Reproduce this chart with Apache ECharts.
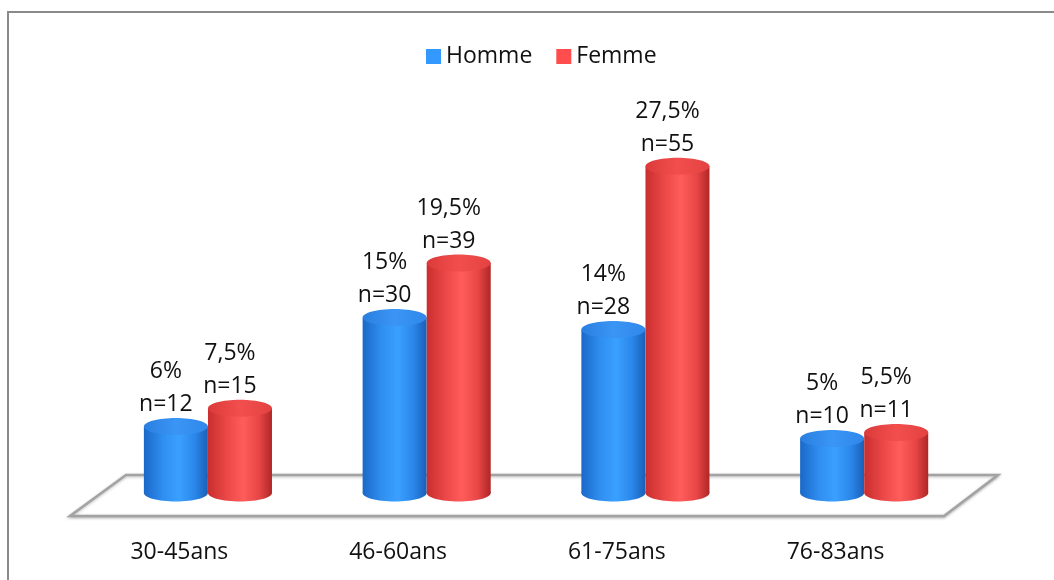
<!DOCTYPE html>
<html>
<head>
<meta charset="utf-8">
<script src="https://cdn.jsdelivr.net/npm/echarts@6/dist/echarts.min.js"></script>
<style>
html,body{margin:0;padding:0;background:#fff;}
#chart{width:1054px;height:580px;}
</style>
</head>
<body>
<div id="chart"></div>
<script>
var categories = ['30-45ans', '46-60ans', '61-75ans', '76-83ans'];
var hommePct = [6, 15, 14, 5];
var hommeN = [12, 30, 28, 10];
var femmePct = [7.5, 19.5, 27.5, 5.5];
var femmeN = [15, 39, 55, 11];
var seriesNames = ['Homme', 'Femme'];

var FONT = '"Open Sans", "Noto Sans", sans-serif';
var FS = 23;
var palettes = {
  Homme: {
    legend: '#3399ff',
    body: ['#1b68c8', '#2f8ff0', '#3aa0ff', '#2a86e8', '#1a5fb8'],
    top: ['#2a7fe0', '#3a95f5', '#2f88ea']
  },
  Femme: {
    legend: '#ff4d4d',
    body: ['#c92e2e', '#ec4848', '#ff5c5c', '#e84646', '#b02626'],
    top: ['#dc3a3a', '#f24e4e', '#e44242']
  }
};

function fmtPct(v) { return String(v).replace('.', ',') + '%'; }

function makeRender(name, pcts, ns, offsetFrac) {
  var pal = palettes[name];
  return function (params, api) {
    var i = api.value(0);
    var v = api.value(1);
    var topPt = api.coord([i, v]);
    var basePt = api.coord([i, 0]);
    var band = api.size([1, 0])[0];
    var cx = topPt[0] + band * offsetFrac;
    var rx = band * 0.1463;
    var ry = 8.5;
    var topY = topPt[1];
    var baseY = basePt[1] - 6;
    var bodyGrad = new echarts.graphic.LinearGradient(0, 0, 1, 0, [
      {offset: 0, color: pal.body[0]},
      {offset: 0.3, color: pal.body[1]},
      {offset: 0.55, color: pal.body[2]},
      {offset: 0.8, color: pal.body[3]},
      {offset: 1, color: pal.body[4]}
    ]);
    var topGrad = new echarts.graphic.LinearGradient(0, 0, 1, 0, [
      {offset: 0, color: pal.top[0]},
      {offset: 0.5, color: pal.top[1]},
      {offset: 1, color: pal.top[2]}
    ]);
    return {
      type: 'group',
      children: [
        {type: 'ellipse', shape: {cx: cx, cy: baseY, rx: rx, ry: ry}, style: {fill: bodyGrad}},
        {type: 'rect', shape: {x: cx - rx, y: topY, width: rx * 2, height: baseY - topY}, style: {fill: bodyGrad}},
        {type: 'ellipse', shape: {cx: cx, cy: topY, rx: rx, ry: ry}, style: {fill: topGrad}},
        {type: 'text', style: {text: 'n=' + ns[params.dataIndex], x: cx - 10, y: topY - 22,
          align: 'center', verticalAlign: 'middle', font: FS + 'px ' + FONT, fill: '#111'}},
        {type: 'text', style: {text: fmtPct(pcts[params.dataIndex]), x: cx - 10, y: topY - 55,
          align: 'center', verticalAlign: 'middle', font: FS + 'px ' + FONT, fill: '#111'}}
      ]
    };
  };
}

function toData(arr) { return arr.map(function (v, i) { return [i, v]; }); }

var chart = echarts.init(document.getElementById('chart'), null, {renderer: 'canvas'});
chart.setOption({
  backgroundColor: '#fff',
  animation: false,
  textStyle: {fontFamily: FONT},
  legend: {
    data: seriesNames,
    left: 421,
    top: 40,
    icon: 'rect',
    itemWidth: 15,
    itemHeight: 15,
    itemGap: 24,
    textStyle: {fontSize: FS, color: '#111', fontFamily: FONT}
  },
  grid: {left: 70, right: 109, top: 136, bottom: 81},
  xAxis: {
    type: 'category',
    data: categories,
    axisLine: {show: false},
    axisTick: {show: false},
    axisLabel: {fontSize: FS, color: '#111', margin: 42, fontFamily: FONT}
  },
  yAxis: {type: 'value', min: 0, max: 30, show: false},
  graphic: [
    {type: 'rect', z: -10, silent: true,
      shape: {x: 8, y: 12, width: 1200, height: 700},
      style: {fill: 'none', stroke: '#8a8a8a', lineWidth: 2}},
    {type: 'polygon', z: -5, silent: true,
      shape: {points: [[126, 475], [998, 475], [944, 516], [70, 516]]},
      style: {fill: '#fff', stroke: '#a3a3a3', lineWidth: 2.5,
        shadowBlur: 3, shadowColor: 'rgba(0,0,0,0.25)', shadowOffsetY: 1}}
  ],
  series: [
    {name: 'Homme', type: 'custom', z: 5, itemStyle: {color: palettes.Homme.legend},
      encode: {x: 0, y: 1}, data: toData(hommePct),
      renderItem: makeRender('Homme', hommePct, hommeN, -0.016)},
    {name: 'Femme', type: 'custom', z: 6, itemStyle: {color: palettes.Femme.legend},
      encode: {x: 0, y: 1}, data: toData(femmePct),
      renderItem: makeRender('Femme', femmePct, femmeN, 0.277)}
  ]
});
</script>
</body>
</html>
